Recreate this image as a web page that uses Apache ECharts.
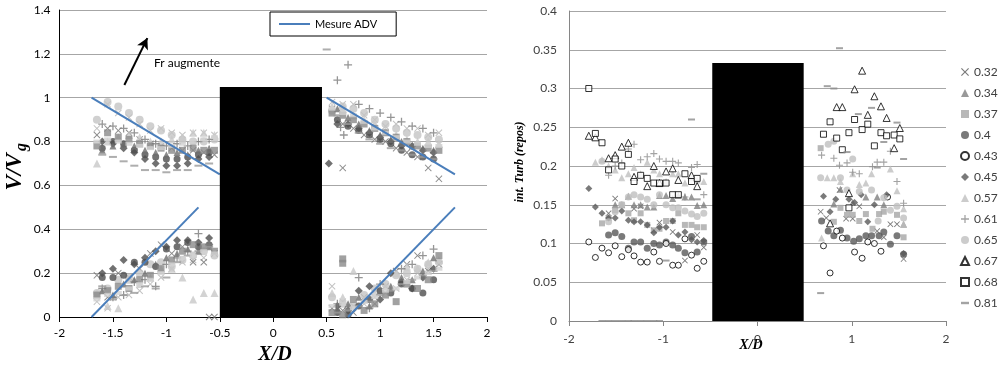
<!DOCTYPE html>
<html><head><meta charset="utf-8">
<script src="https://cdn.jsdelivr.net/npm/echarts@6/dist/echarts.min.js"></script>
<style>html,body{margin:0;padding:0;background:#fff}#c{width:1000px;height:367px}</style>
</head><body><div id="c"></div>
<script>
// ================= DATA =================
// Left chart (V/Vg vs X/D): measurement x positions
const leftXUpA = [-1.65,-1.55,-1.45,-1.35,-1.25,-1.15,-1.05,-0.95,-0.85,-0.75,-0.65,-0.55];
const leftXUpB = [-1.60,-1.50,-1.40,-1.30,-1.20,-1.10,-1.00,-0.90,-0.80,-0.70,-0.60];
const leftXDnA = [0.55,0.65,0.75,0.85,0.95,1.05,1.15,1.25,1.35,1.45,1.55];
const leftXDnB = [0.60,0.70,0.80,0.90,1.00,1.10,1.20,1.30,1.40,1.50];
const leftGroup = ['A','A','A','B','B','A','B','A','B','B','A'];
// upstream, upper branch
const leftUpTop = [
 [0.86,0.97,0.93,0.91,0.88,0.85,0.86,0.84,0.83,0.84,0.84,0.83],
 [0.83,0.86,0.85,0.84,0.81,0.79,0.78,0.77,0.76,0.76,0.75,0.74],
 [0.90,0.98,0.96,0.93,0.90,0.87,0.85,0.83,0.81,0.80,0.80,0.81],
 [0.77,0.80,0.79,0.76,0.74,0.73,0.72,0.72,0.73,0.74,0.75],
 [0.80,0.79,0.77,0.75,0.72,0.70,0.69,0.69,0.70,0.72,0.73],
 [0.70,0.80,0.82,0.83,0.82,0.80,0.80,0.81,0.82,0.84,0.84,0.83],
 [0.76,0.78,0.79,0.78,0.76,0.75,0.74,0.75,0.74,0.76,0.77],
 [0.78,0.84,0.82,0.81,0.79,0.78,0.77,0.76,0.76,0.77,0.76,0.76],
 [0.88,0.87,0.86,0.84,0.81,0.79,0.78,0.79,0.78,0.80,0.81],
 [0.74,0.73,0.71,0.69,0.67,0.67,0.66,0.67,0.67,0.69,0.70],
 [0.80,0.81,0.80,0.79,0.78,0.77,0.77,0.78,0.79,0.80,0.81,0.82]
];
// upstream, lower branch
const leftUpBot = [
 [0.07,0.04,0.09,0.10,0.12,0.15,0.18,0.22,0.25,0.26,0.27,0.29],
 [0.19,0.09,0.20,0.18,0.22,0.29,0.33,0.29,0.32,0.25,0.25,0.29],
 [0.11,0.13,0.17,0.18,0.20,0.24,0.25,0.23,0.26,0.28,0.30,0.28],
 [0.18,0.18,0.19,0.25,0.25,0.23,0.31,0.32,0.34,0.32,0.33],
 [0.20,0.22,0.26,0.24,0.27,0.30,0.32,0.35,0.35,0.34,0.36],
 [0.11,0.05,0.04,0.17,0.15,0.18,0.22,0.22,0.18,0.08,0.11,0.11],
 [0.12,0.10,0.15,0.17,0.20,0.24,0.27,0.29,0.31,0.30,0.32],
 [0.10,0.12,0.14,0.13,0.17,0.19,0.22,0.26,0.30,0.33,0.32,0.30],
 [0.13,0.09,0.10,0.16,0.17,0.14,0.24,0.27,0.30,0.38,0.33],
 [0.14,0.08,0.10,0.11,0.14,0.13,0.18,0.25,0.28,0.30,0.32],
 [0.08,0.10,0.11,0.13,0.15,0.17,0.20,0.24,0.27,0.28,0.30,0.29]
];
// downstream, upper branch
const leftDnTop = [
 [0.98,0.97,0.97,0.92,0.90,0.87,0.88,0.86,0.86,0.83,0.84],
 [0.95,0.88,0.86,0.83,0.81,0.80,0.77,0.75,0.73,0.68,0.63],
 [0.94,0.96,0.95,0.93,0.90,0.88,0.86,0.84,0.83,0.82,0.81],
 [0.90,0.87,0.85,0.83,0.81,0.79,0.76,0.74,0.73,0.72],
 [0.88,0.88,0.86,0.84,0.82,0.80,0.78,0.78,0.76,0.75],
 [0.96,0.95,0.92,0.90,0.88,0.85,0.83,0.81,0.80,0.80,0.79],
 [0.95,0.91,0.88,0.85,0.83,0.81,0.80,0.78,0.77,0.76],
 [0.93,0.92,0.90,0.88,0.86,0.84,0.82,0.80,0.78,0.77,0.76],
 [1.08,1.15,0.97,0.95,0.93,0.91,0.89,0.87,0.86,0.84],
 [0.92,0.88,0.84,0.81,0.79,0.77,0.76,0.74,0.73,0.72],
 [0.95,0.93,0.92,0.89,0.86,0.84,0.82,0.80,0.79,0.78,0.78]
];
// downstream, lower branch
const leftDnBot = [
 [0.14,0.07,0.05,0.06,0.09,0.11,0.13,0.17,0.20,0.22,0.24],
 [0.04,0.03,0.02,0.09,0.06,0.14,0.21,0.24,0.28,0.21,0.24],
 [0.09,0.06,0.05,0.10,0.13,0.15,0.19,0.20,0.22,0.24,0.25],
 [0.02,0.01,0.05,0.08,0.12,0.11,0.15,0.13,0.11,0.17],
 [0.05,0.03,0.12,0.14,0.08,0.20,0.16,0.13,0.18,0.22],
 [0.11,0.09,0.21,0.08,0.11,0.14,0.20,0.23,0.22,0.25,0.26],
 [0.04,0.06,0.09,0.05,0.12,0.14,0.18,0.17,0.21,0.27],
 [0.02,0.01,0.08,0.03,0.06,0.10,0.07,0.15,0.13,0.17,0.28],
 [0.06,0.04,0.18,0.04,0.15,0.12,0.22,0.24,0.28,0.31],
 [0.02,0.03,0.05,0.07,0.10,0.12,0.15,0.17,0.19,0.21],
 [0.05,0.06,0.04,0.07,0.09,0.12,0.13,0.16,0.18,0.20,0.22]
];
// isolated points: [series index, x, y]
const leftExtra = [[9,0.50,1.22],[8,0.63,0.865],[8,0.66,0.83],[4,0.52,0.70],[1,0.65,0.68],[1,-0.60,0],[1,-0.55,0],[7,0.65,0.245],[7,0.65,0.265]];
// "Mesure ADV" reference lines
const advUpTop = [[-1.7,1.0],[-0.5,0.65]];
const advDnTop = [[0.5,1.0],[1.7,0.65]];
const advUpBot = [[-1.7,0],[-0.7,0.5]];
const advDnBot = [[0.7,0],[1.7,0.5]];
const arrowFr = [[-1.393,1.058],[-1.178,1.272]];
const leftObstacle = [-0.5, 0.456, 0, 1.049];

// Right chart (turbulence intensity vs X/D)
const rightNames = ['0.32','0.34','0.37','0.4','0.43','0.45','0.57','0.61','0.65','0.67','0.68','0.81'];
const rightXUp = [-1.79,-1.72,-1.65,-1.58,-1.51,-1.44,-1.37,-1.31,-1.24,-1.17,-1.10,-1.04,-0.97,-0.90,-0.84,-0.77,-0.70,-0.64,-0.57];
const rightUp = [
 [null,null,null,0.139,0.158,null,null,0.145,0.148,null,0.117,0.127,null,0.115,null,0.078,null,0.111,0.095],
 [null,null,null,null,0.150,0.150,0.161,0.150,0.150,0.147,0.147,0.162,0.162,0.158,0.162,0.160,0.160,0.149,0.150],
 [null,null,0.126,0.133,0.143,0.150,0.139,0.130,0.139,0.124,0.117,0.119,0.129,0.129,0.139,0.124,0.124,0.121,0.121],
 [null,null,null,0.111,0.114,0.109,0.094,0.102,0.102,0.094,0.100,0.098,0.102,0.098,0.094,0.088,0.109,0.089,0.102],
 [0.102,0.082,0.094,0.088,0.097,0.083,0.092,0.084,0.076,0.076,0.089,0.077,0.100,0.072,0.072,0.106,0.085,0.068,0.077],
 [0.171,0.147,0.139,0.133,0.133,0.142,0.130,0.128,0.128,0.124,0.114,0.121,0.121,0.129,0.111,0.115,0.105,0.102,0.104],
 [null,0.205,0.208,0.200,0.195,0.185,0.190,0.198,0.190,0.205,0.195,0.190,0.180,0.190,0.190,0.178,0.185,0.182,0.180],
 [null,null,null,0.188,0.200,0.204,0.222,0.228,0.208,0.212,0.216,0.209,0.206,0.206,0.204,0.160,0.198,0.202,0.163],
 [null,null,0.206,0.128,0.141,0.150,0.160,0.163,0.160,0.157,0.150,0.163,0.150,0.146,0.146,0.142,0.138,0.135,0.139],
 [0.239,0.237,null,0.210,0.214,0.225,0.230,0.186,null,0.174,0.200,0.178,0.193,0.197,0.182,null,0.188,0.174,null],
 [0.300,0.242,0.230,0.195,0.209,0.200,0.215,0.180,0.188,0.184,0.178,0.178,0.178,0.163,0.163,0.190,0.180,0.184,null],
 [null,null,0,0,0,0,0,0,0,0,0,0,0.078,null,null,null,0.260,0.157,0.190]
];
const rightDn = [
 [[0.67,0.141],[0.73,0.133],[0.87,0.169],[0.94,0.132],[1.01,0.132],[1.08,0.148],[1.27,0.116],[1.34,0.108],[1.41,0.125],[1.48,0.125],[1.55,0.080]],
 [[0.81,0.151],[0.88,0.170],[1.01,0.153],[1.15,0.160],[1.27,0.160],[1.34,0.150],[1.55,0.125]],
 [[0.67,0.223],[0.81,0.128],[0.88,0.146],[0.95,0.137],[1.01,0.137],[1.08,0.129],[1.15,0.138],[1.22,0.119],[1.29,0.138],[1.34,0.141],[1.48,0.137],[1.55,0.108]],
 [[0.68,0.129],[0.75,0.116],[0.81,0.110],[0.88,0.117],[0.95,0.107],[1.02,0.103],[1.08,0.106],[1.15,0.110],[1.21,0.110],[1.29,0.110],[1.34,0.115],[1.41,0.099],[1.48,0.110],[1.55,0.086]],
 [[0.70,0.097],[0.77,0.062],[0.84,0.116],[0.90,0.107],[1.03,0.089],[1.11,0.081],[1.17,0.102],[1.24,0.100],[1.31,0.090],[1.38,0.160]],
 [[0.70,0.161],[0.77,0.141],[0.83,0.157],[0.97,0.157],[1.03,0.153],[1.10,0.163],[1.17,0.128],[1.24,0.150],[1.37,0.163],[1.55,0.087]],
 [[0.74,0.185],[0.81,0.185],[1.01,0.190],[1.21,0.190],[1.41,0.196],[0.68,0.107],[0.88,0.180],[1.08,0.176],[1.15,0.178],[1.48,0.168],[1.55,0.145],[1.55,0.125]],
 [[0.68,0.214],[0.81,0.210],[0.87,0.201],[0.95,0.204],[1.01,0.192],[1.08,0.190],[1.22,0.199],[1.27,0.205],[1.34,0.205],[1.41,0.219],[1.48,0.180],[1.55,0.152]],
 [[0.75,0.228],[0.81,0.232],[1.01,0.209],[0.67,0.185],[0.95,0.169],[1.08,0.167],[1.21,0.169],[1.34,0.159],[1.48,0.148],[1.55,0.133],[1.28,0.129],[1.41,0.143],[0.88,0.185]],
 [[1.11,0.323],[1.03,0.299],[1.24,0.290],[0.84,0.276],[0.90,0.276],[1.17,0.266],[1.31,0.277],[1.37,0.262],[1.51,0.249],[1.45,0.223],[0.97,0.165],[0.77,0.126]],
 [[0.77,0.257],[0.70,0.241],[0.84,0.236],[0.97,0.243],[1.03,0.260],[1.11,0.247],[1.17,0.254],[1.31,0.243],[1.37,0.239],[1.45,0.240],[1.51,0.235],[1.24,0.226],[0.90,0.221],[0.97,0.146]],
 [[0.87,0.352],[0.74,0.303],[0.81,0.300],[1.07,0.267],[1.21,0.275],[1.48,0.256],[1.34,0.231],[1.55,0.209],[0.95,0.218],[1.27,0.198],[0.67,0.036]]
];
const rightObstacle = [-0.48, 0.49, 0, 0.333];

// ================= STYLES =================
const CROSS = 'path://M1,0L5,4L9,0L10,1L6,5L10,9L9,10L5,6L1,10L0,9L4,5L0,1Z';
const PLUS = 'path://M4.2,0H5.8V4.2H10V5.8H5.8V10H4.2V5.8H0V4.2H4.2Z';
const DASH = 'path://M0,0H10V3H0Z';
const leftStyles = [
 {s:CROSS, c:'#b3b3b3', z:7},
 {s:CROSS, c:'#6f6f6f', z:7},
 {s:'circle', c:'#c4c4c4', z:8},
 {s:'circle', c:'#4d4d4d', z:7},
 {s:'diamond', c:'#4d4d4d', z:8},
 {s:'triangle', c:'#c8c8c8', z:8},
 {s:'triangle', c:'#6e6e6e', z:7},
 {s:'rect', c:'#8a8a8a', z:7},
 {s:PLUS, c:'#7a7a7a', z:8},
 {s:'rect', c:'#9a9a9a', z:[8,2]},
 {s:'rect', c:'#d2d2d2', z:[7,4]}
];
const rightStyles = [
 {s:CROSS, c:'#595959', z:6},
 {s:'triangle', c:'#7f7f7f', z:7},
 {s:'rect', c:'#a6a6a6', z:6},
 {s:'circle', c:'#595959', z:7},
 {s:'circle', c:'#fff', b:'#000', z:6},
 {s:'diamond', c:'#595959', z:7},
 {s:'triangle', c:'#bfbfbf', z:7},
 {s:PLUS, c:'#8c8c8c', z:7},
 {s:'circle', c:'#bfbfbf', z:7},
 {s:'triangle', c:'#fff', b:'#000', z:7},
 {s:'rect', c:'#fff', b:'#000', z:6},
 {s:'rect', c:'#8c8c8c', z:[7,2]}
];

const series = [];
// right chart scatter series first (legend icons)
rightNames.forEach((name,i)=>{
  const st = rightStyles[i];
  const pts = [];
  rightUp[i].forEach((y,k)=>{ if (y !== null) pts.push([rightXUp[k], y]); });
  rightDn[i].forEach(p=>pts.push(p));
  series.push({type:'scatter', name, xAxisIndex:1, yAxisIndex:1, symbol:st.s, symbolSize:st.z,
    itemStyle: st.b ? {color:st.c, borderColor:st.b, borderWidth:1} : {color:st.c},
    data:pts, z:3});
});
// left chart scatter series
leftStyles.forEach((st,i)=>{
  const xu = leftGroup[i]==='A' ? leftXUpA : leftXUpB;
  const xd = leftGroup[i]==='A' ? leftXDnA : leftXDnB;
  const pts = [];
  [[xu,leftUpTop[i]],[xu,leftUpBot[i]],[xd,leftDnTop[i]],[xd,leftDnBot[i]]].forEach(([xs,ys])=>{
    ys.forEach((y,k)=>pts.push([xs[k], y]));
  });
  leftExtra.filter(e=>e[0]===i).forEach(e=>pts.push([e[1], e[2]]));
  series.push({type:'scatter', name:'L'+i, xAxisIndex:0, yAxisIndex:0, symbol:st.s, symbolSize:st.z,
    itemStyle:{color:st.c}, data:pts, z:3});
});
// ADV lines
[advUpTop, advDnTop, advUpBot, advDnBot].forEach((seg,i)=>{
  const s = {type:'line', name:'Mesure ADV', xAxisIndex:0, yAxisIndex:0, data:seg, symbol:'none',
    lineStyle:{color:'#4a7ebb', width:2}, itemStyle:{color:'#4a7ebb'}, z:5, silent:true};
  if (i === 0) {
    s.markLine = {silent:true, symbol:['none','arrow'], symbolSize:[9,11],
      lineStyle:{color:'#000', width:2, type:'solid'}, itemStyle:{color:'#000'}, label:{show:false},
      data:[[{coord:arrowFr[0]},{coord:arrowFr[1]}]]};
  }
  series.push(s);
});
// obstacles
function rectRender(params, api){
  const a = api.coord([api.value(0), api.value(3)]);
  const b = api.coord([api.value(1), api.value(2)]);
  return {type:'rect', shape:{x:a[0], y:a[1], width:b[0]-a[0], height:b[1]-a[1]}, style:{fill:'#000'}};
}
series.push({type:'custom', name:'obsL', xAxisIndex:0, yAxisIndex:0, z:10, silent:true,
  renderItem:rectRender, data:[leftObstacle], encode:{x:[0,1], y:[2,3]}});
series.push({type:'custom', name:'obsR', xAxisIndex:1, yAxisIndex:1, z:10, silent:true,
  renderItem:rectRender, data:[rightObstacle], encode:{x:[0,1], y:[2,3]}});

const tickFont = {fontFamily:'Lato', fontSize:12};
const serif = '"Liberation Serif", "DejaVu Serif", serif';

const option = {
  animation:false,
  backgroundColor:'#fff',
  grid:[
    {left:59.5, right:513, top:10, bottom:50},
    {left:569, right:54, top:11, bottom:46}
  ],
  xAxis:[
    {type:'value', gridIndex:0, min:-2, max:2, interval:0.5,
     axisLine:{show:true, onZero:false, lineStyle:{color:'#000', width:1}},
     axisTick:{show:true, length:5, lineStyle:{color:'#000'}},
     axisLabel:Object.assign({color:'#000', margin:10}, tickFont),
     splitLine:{show:false}},
    {type:'value', gridIndex:1, min:-2, max:2, interval:1,
     axisLine:{show:true, onZero:false, lineStyle:{color:'#868686', width:1}},
     axisTick:{show:true, length:5, lineStyle:{color:'#868686'}},
     axisLabel:Object.assign({color:'#404040', margin:12}, tickFont),
     splitLine:{show:false}}
  ],
  yAxis:[
    {type:'value', gridIndex:0, min:0, max:1.4, interval:0.2,
     axisLine:{show:true, onZero:false, lineStyle:{color:'#000', width:1}},
     axisTick:{show:false},
     axisLabel:Object.assign({color:'#000', margin:9}, tickFont),
     splitLine:{show:true, lineStyle:{color:'#a6a6a6', width:1}}},
    {type:'value', gridIndex:1, min:0, max:0.4, interval:0.05,
     axisLine:{show:true, onZero:false, lineStyle:{color:'#868686', width:1}},
     axisTick:{show:false},
     axisLabel:Object.assign({color:'#404040', margin:12}, tickFont),
     splitLine:{show:true, lineStyle:{color:'#a6a6a6', width:1}}}
  ],
  legend:[
    {data:[{name:'Mesure ADV', icon:'rect'}], left:270, top:12, orient:'horizontal',
     borderColor:'#000', borderWidth:1, padding:[5,19,5,9],
     itemWidth:31, itemHeight:2, itemGap:5, selectedMode:false,
     textStyle:{fontFamily:'Lato', fontSize:11, color:'#000', lineHeight:14}},
    {data:rightNames.map(n=> n==='0.81' ? {name:n, icon:DASH} : {name:n}),
     left:955, top:61, orient:'vertical', itemWidth:8, itemHeight:8, itemGap:9,
     selectedMode:false, textStyle:{fontFamily:'Lato', fontSize:12, color:'#404040'}}
  ],
  graphic:[
    {type:'text', x:15, y:172, rotation:Math.PI/2,
     style:{text:'V/V', fontFamily:serif, fontSize:23, fontWeight:'bold', fontStyle:'italic', fill:'#000', align:'center', verticalAlign:'middle'}},
    {type:'text', x:22, y:147, rotation:Math.PI/2,
     style:{text:'g', fontFamily:serif, fontSize:16, fontWeight:'bold', fontStyle:'italic', fill:'#000', align:'center', verticalAlign:'middle'}},
    {type:'text', x:275, y:355,
     style:{text:'X/D', fontFamily:serif, fontSize:20, fontWeight:'bold', fontStyle:'italic', fill:'#000', align:'center', verticalAlign:'middle'}},
    {type:'text', x:751, y:345,
     style:{text:'X/D', fontFamily:serif, fontSize:14, fontWeight:'bold', fontStyle:'italic', fill:'#000', align:'center', verticalAlign:'middle'}},
    {type:'text', x:520, y:162, rotation:Math.PI/2,
     style:{text:'int. Turb (repos)', fontFamily:serif, fontSize:12, fontWeight:'bold', fontStyle:'italic', fill:'#000', align:'center', verticalAlign:'middle'}},
    {type:'text', x:154, y:63,
     style:{text:'Fr augmente', fontFamily:'Lato', fontSize:12, fill:'#000', align:'left', verticalAlign:'middle'}}
  ],
  series
};
const chart = echarts.init(document.getElementById('c'), null, {renderer:'canvas'});
chart.setOption(option);
</script>
</body></html>
